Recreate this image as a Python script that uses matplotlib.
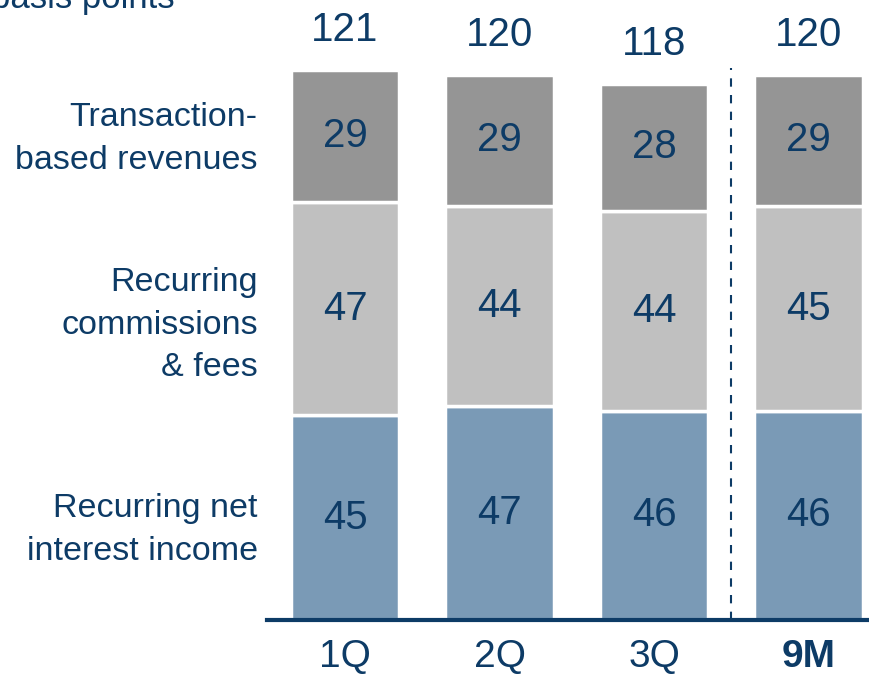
import matplotlib
matplotlib.use("Agg")
import matplotlib.pyplot as plt

categories = ["1Q", "2Q", "3Q", "9M"]
net_interest = [45, 47, 46, 46]
commissions = [47, 44, 44, 45]
transaction = [29, 29, 28, 29]
totals = [121, 120, 118, 120]
series_labels = ["Recurring net\ninterest income", "Recurring\ncommissions\n& fees", "Transaction-\nbased revenues"]

navy = "#0d3b66"
colors = ["#7a9ab6", "#c0c0c0", "#959595"]

plt.rcParams['font.family'] = ['Liberation Sans', 'DejaVu Sans']

fig = plt.figure(figsize=(8.7, 6.8), dpi=100)
ax = fig.add_axes([267/870, 60/680, 1 - 267/870, 620/680])
ax.set_xlim(-0.505, 3.398)
ax.set_ylim(0, 136.4)

x = list(range(len(categories)))
width = 0.70
bottoms = [0] * len(categories)
for vals, col in zip([net_interest, commissions, transaction], colors):
    ax.bar(x, vals, width, bottom=bottoms, color=col, edgecolor="white", linewidth=2.5, zorder=2)
    for xi, v, b in zip(x, vals, bottoms):
        ax.text(xi, b + v / 2, str(v), ha="center", va="center", fontsize=29, color=navy, zorder=3)
    bottoms = [b + v for b, v in zip(bottoms, vals)]

for xi, t in zip(x, totals):
    ax.text(xi, t + 8.8, str(t), ha="center", va="center", fontsize=29, color=navy)

# series labels on the left (layout positions in axis data units)
label_y = [19.9, 64.9, 105.9]
for lab, m in zip(series_labels, label_y):
    ax.text(-0.565, m, lab, ha="right", va="center", fontsize=24.5, color=navy,
            linespacing=1.5, transform=ax.transData, clip_on=False)

ax.plot([2.5, 2.5], [0, 121.4], linestyle=(0, (4, 4)), color=navy, linewidth=1.5, zorder=1)

for s in ["top", "right", "left"]:
    ax.spines[s].set_visible(False)
ax.spines["bottom"].set_color(navy)
ax.spines["bottom"].set_linewidth(3)
ax.spines["bottom"].set_zorder(4)
ax.set_yticks([])
ax.set_xticks(x)
ax.set_xticklabels(categories, fontsize=28, color=navy)
ax.get_xticklabels()[3].set_fontweight("bold")
ax.tick_params(axis="x", length=0, pad=14)

fig.text(175/870, 1 - 8/680, "basis points", ha="right", va="baseline", fontsize=25, color=navy)

fig.savefig("out.png", dpi=100)
